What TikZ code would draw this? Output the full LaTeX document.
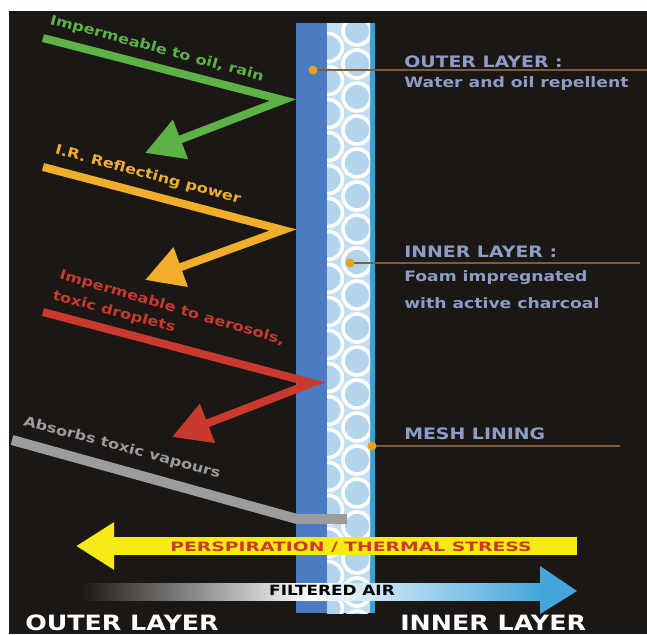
\documentclass[tikz,border=0pt]{standalone}
\usepackage{fontspec}
\setmainfont{DejaVu Sans}
\newfontfamily\widefont[FakeStretch=1.2]{DejaVu Sans}
\newfontfamily\xwidefont[FakeStretch=1.45]{DejaVu Sans}
\usetikzlibrary{arrows.meta}

\definecolor{bgdark}{HTML}{1A1714}
\definecolor{outerblue}{HTML}{4B7CC2}
\definecolor{foamblue}{HTML}{C2DEF1}
\definecolor{cellblue}{HTML}{B4D4EC}
\definecolor{meshcyan}{HTML}{3C9FD6}
\definecolor{oilgreen}{HTML}{5DB247}
\definecolor{irorange}{HTML}{F0AE2A}
\definecolor{dropred}{HTML}{C9392E}
\definecolor{vapgray}{HTML}{9C9C9E}
\definecolor{sunyellow}{HTML}{F6EA16}
\definecolor{stressred}{HTML}{D2372B}
\definecolor{aircyan}{HTML}{44A6DA}
\definecolor{labblue}{HTML}{8E9DC7}
\definecolor{leaderbrown}{HTML}{7E5E38}
\definecolor{dotorange}{HTML}{E9A322}

\tikzset{
  bentarrow/.style={line width=0.2cm, line join=miter, -{Triangle[width=1cm,length=0.95cm]}},
  slanttext/.style={font=\widefont\bfseries\fontsize{9.6}{11}\selectfont, rotate=-15, inner sep=0pt},
  labcap/.style={font=\widefont\bfseries\fontsize{11.2}{13}\selectfont, text=labblue, anchor=west, inner sep=0pt},
  labtxt/.style={font=\widefont\bfseries\fontsize{10.2}{12}\selectfont, text=labblue, anchor=west, inner sep=0pt},
  sidetext/.style={font=\widefont\bfseries\fontsize{15}{18}\selectfont, text=white, anchor=base west, inner sep=0pt},
  leader/.style={leaderbrown, line width=0.04cm},
  ring/.style={draw=white, fill=cellblue, line width=0.09cm}
}

\begin{document}
\begin{tikzpicture}[x=0.025cm, y=-0.025cm]
\useasboundingbox (0,0) rectangle (647,634);
% background
\fill[bgdark] (9,11) rectangle (647,634);

% the three layers
\fill[outerblue] (296,23) rectangle (327,613);
\fill[foamblue] (327,23) rectangle (370,613);
\fill[meshcyan] (370,23) rectangle (375,613);
\begin{scope}
\clip (327,23) rectangle (370,613);
\foreach \k in {0,...,18}{
\draw[ring] (357,31+33*\k) circle (14);
\draw[ring] (328.4,47.5+33*\k) circle (14);
}
\end{scope}

% leader lines to the labels
\coordinate (od) at (313,70);  \coordinate (oe) at (647,70);
\coordinate (id) at (350,263); \coordinate (ie) at (640,263);
\coordinate (md) at (372,446); \coordinate (me) at (620,446);
\draw[leader] (od) -- (oe);
\draw[leader] (id) -- (ie);
\draw[leader] (md) -- (me);
\foreach \d in {od,id,md}{
\fill[dotorange] (\d) circle (4.5);
}

\node[labcap] (outerhd) at (404,62) {OUTER LAYER :};
\node[labtxt] (outertx) at (404,84) {Water and oil repellent};
\node[labcap] (innerhd) at (404,252) {INNER LAYER :};
\node[labtxt] (innertx) at (404,278) {Foam impregnated};
\node[labtxt] (innertx2) at (404,303) {with active charcoal};
\node[labcap] (meshhd) at (404,434) {MESH LINING};

% bent arrows bouncing off the outer layer
\coordinate (gs) at (43,38);  \coordinate (gc) at (283,100); \coordinate (gt) at (145,153);
\coordinate (ys) at (43,167); \coordinate (yc) at (283,230); \coordinate (yt) at (145,280);
\coordinate (rs) at (43,312); \coordinate (rc) at (312,383); \coordinate (rt) at (172,437);
\draw[bentarrow, oilgreen] (gs) -- (gc) -- (gt);
\draw[bentarrow, irorange] (ys) -- (yc) -- (yt);
\draw[bentarrow, dropred] (rs) -- (rc) -- (rt);

% vapours into the foam
\coordinate (vs) at (12,440); \coordinate (vc) at (297,519); \coordinate (ve) at (347,519);
\draw[vapgray, line width=0.25cm, line join=miter] (vs) -- (vc) -- (ve);

\node[slanttext, text=oilgreen] (oiltx) at (157,49) {Impermeable to oil, rain};
\node[slanttext, text=irorange] (irtx) at (148,175) {I.R. Reflecting power};
\node[slanttext, text=dropred, rotate=-1.5] (droptx) at (172,308) {Impermeable to aerosols,};
\node[slanttext, text=dropred] (droptx2) at (114,312) {toxic droplets};
\node[slanttext, text=vapgray] (vaptx) at (122,448) {Absorbs toxic vapours};

% perspiration arrow
\coordinate (pr) at (577,546); \coordinate (pl) at (76,546);
\draw[sunyellow, line width=0.45cm, -{Triangle[width=1.12cm,length=0.95cm]}] (pr) -- (pl);
\node[font=\xwidefont\bfseries\fontsize{9.2}{11}\selectfont, text=stressred, inner sep=0pt] (stresstx) at (351,547) {PERSPIRATION / THERMAL STRESS};

% filtered air arrow
\shade[left color=bgdark, right color=aircyan, middle color=white] (80,583) rectangle (541,600);
\fill[aircyan] (540,566) -- (577,591) -- (540,614) -- cycle;
\node[font=\widefont\bfseries\fontsize{10}{12}\selectfont, text=black, inner sep=0pt] (airtx) at (332,590) {FILTERED AIR};

% sides
\node[sidetext] (outside) at (25,630) {OUTER LAYER};
\node[sidetext] (inside) at (400,630) {INNER LAYER};
\end{tikzpicture}
\end{document}
